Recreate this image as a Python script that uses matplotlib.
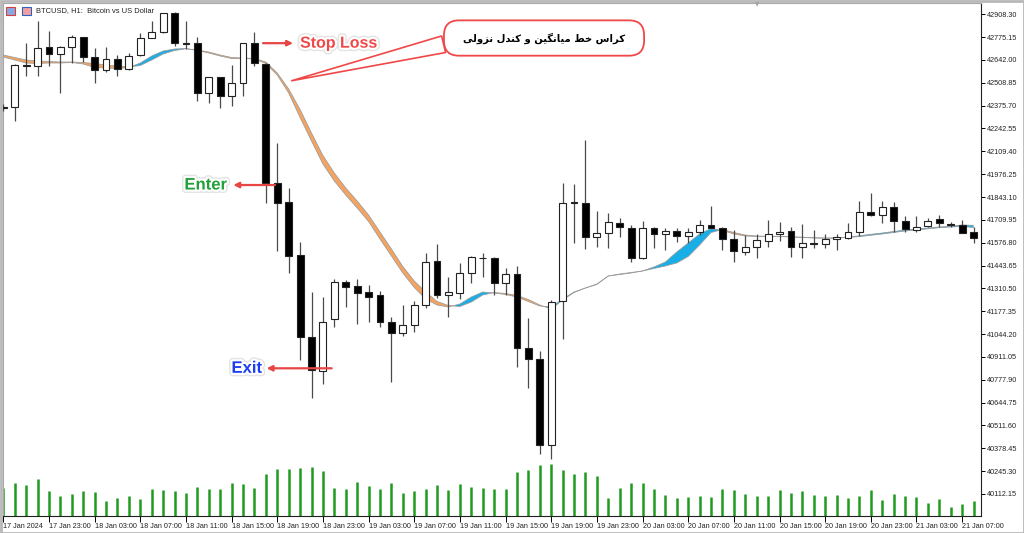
import matplotlib
matplotlib.use('Agg')
import matplotlib.pyplot as plt
from matplotlib.patches import Rectangle
import matplotlib.patheffects as pe
import numpy as np

# ---------------- data (BTCUSD H1, 17 Jan 19:00 -> 21 Jan 08:00) ----------------
opens = [42370.0, 42369.6, 42605.0, 42608.7, 42715.9, 42675.1, 42715.9, 42774.2, 42657.6, 42583.6,
         42647.7, 42589.4, 42671.0, 42771.9, 42803.4, 42914.2, 42739.3, 42742.8, 42451.3, 42541.0,
         42432.0, 42506.0, 42739.3, 42618.6, 41926.6, 41812.3, 41505.0, 41025.2, 40828.8, 41131.9,
         41349.0, 41324.3, 41291.0, 41271.9, 41116.2, 41052.1, 41097.0, 41213.5, 41471.8, 41271.9,
         41285.3, 41398.3, 41490.0, 41485.8, 41340.0, 41392.5, 40964.6, 40897.0, 40397.3, 41236.9,
         41812.0, 41809.9, 41608.2, 41631.5, 41689.8, 41664.2, 41489.3, 41660.7, 41627.5, 41646.7,
         41615.8, 41637.4, 41680.0, 41660.7, 41596.6, 41524.3, 41550.0, 41588.4, 41625.7, 41645.0,
         41550.0, 41573.3, 41569.2, 41598.3, 41606.0, 41637.4, 41754.0, 41738.3, 41783.2, 41703.3,
         41650.8, 41674.1, 41713.2, 41684.0, 41680.0, 41637.4]
highs = [42385.0, 42620.0, 42742.8, 42871.0, 42811.0, 42725.3, 42787.7, 42776.0, 42710.1, 42715.9,
         42671.0, 42684.5, 42797.6, 42869.3, 42917.7, 42921.7, 42869.3, 42774.2, 42542.8, 42542.8,
         42612.7, 42741.0, 42806.9, 42624.4, 42156.3, 41893.9, 41582.6, 41291.0, 41262.0, 41365.0,
         41359.3, 41363.4, 41330.1, 41295.1, 41141.8, 41213.5, 41238.6, 41514.9, 41567.4, 41378.5,
         41456.5, 41499.0, 41514.9, 41495.1, 41427.5, 41442.6, 41139.5, 40945.3, 41242.7, 41926.6,
         41919.0, 42175.5, 41761.6, 41748.1, 41719.0, 41680.0, 41703.3, 41670.0, 41660.7, 41662.0,
         41660.7, 41709.1, 41790.7, 41666.5, 41650.8, 41621.6, 41625.7, 41709.1, 41695.6, 41666.5,
         41684.0, 41650.8, 41625.7, 41627.5, 41689.8, 41821.6, 41864.7, 41821.6, 41812.3, 41732.4,
         41732.4, 41719.0, 41738.3, 41699.2, 41709.1, 41670.0]
lows = [42345.0, 42288.0, 42548.6, 42548.6, 42608.7, 42447.8, 42622.7, 42630.2, 42509.6, 42571.9,
        42550.4, 42583.6, 42665.2, 42770.0, 42799.3, 42723.5, 42704.3, 42402.9, 42392.9, 42360.3,
        42373.7, 42432.0, 42606.9, 41806.4, 41528.4, 41398.3, 40892.9, 40669.5, 40752.9, 41083.5,
        41203.6, 41101.0, 41116.2, 41083.5, 40766.3, 41032.8, 41057.9, 41194.3, 41254.4, 41145.3,
        41246.3, 41340.0, 41375.0, 41271.9, 41271.9, 40850.3, 40727.9, 40342.9, 40315.7, 41013.5,
        41576.7, 41538.3, 41553.4, 41544.1, 41611.7, 41466.0, 41484.0, 41544.1, 41534.2, 41582.6,
        41573.2, 41621.6, 41660.7, 41534.2, 41466.0, 41505.0, 41485.8, 41550.0, 41588.4, 41495.1,
        41485.8, 41544.1, 41544.1, 41534.2, 41598.3, 41617.5, 41735.0, 41689.8, 41640.9, 41640.9,
        41640.9, 41666.5, 41670.0, 41666.5, 41635.1, 41576.7]
closes = [42362.0, 42612.7, 42612.0, 42710.1, 42675.1, 42715.9, 42774.2, 42657.6, 42583.6, 42647.7,
          42589.4, 42665.2, 42768.4, 42803.4, 42914.2, 42739.3, 42737.0, 42451.3, 42541.0, 42432.0,
          42506.0, 42739.3, 42622.7, 41923.1, 41809.9, 41499.2, 41028.7, 40834.6, 41116.2, 41349.0,
          41320.2, 41285.3, 41261.9, 41116.2, 41048.6, 41097.0, 41213.5, 41466.0, 41271.9, 41291.0,
          41398.3, 41491.6, 41487.0, 41340.0, 41392.5, 40964.6, 40897.0, 40397.3, 41232.8, 41809.9,
          41808.0, 41608.2, 41631.5, 41695.6, 41666.5, 41485.8, 41660.7, 41627.5, 41645.0, 41615.8,
          41640.9, 41680.0, 41664.2, 41596.6, 41530.1, 41550.0, 41592.5, 41625.7, 41637.4, 41550.0,
          41573.3, 41567.4, 41598.3, 41608.2, 41637.4, 41754.0, 41738.3, 41783.2, 41703.3, 41655.0,
          41670.0, 41705.0, 41689.8, 41682.0, 41635.1, 41606.0]
volumes = [2800, 3330, 3070, 3730, 2500, 2000, 2170, 2500, 2400, 1500,
           1830, 2000, 1730, 2670, 2570, 2500, 2330, 2930, 2730, 2670,
           3330, 3230, 2770, 4170, 4670, 4730, 4800, 4930, 4500, 2830,
           2730, 3430, 3000, 2730, 3330, 2330, 2500, 2670, 3070, 2570,
           3170, 2930, 2830, 2670, 2730, 4430, 4630, 5070, 5200, 4630,
           4230, 4430, 4000, 1830, 2830, 3270, 3270, 2730, 2070, 1770,
           1930, 2000, 1930, 2670, 2570, 2230, 2000, 2000, 2570, 2300,
           2500, 2070, 2000, 2070, 1830, 2000, 2570, 1570, 2170, 2000,
           1930, 1330, 1670, 930, 1170, 1470]
ma_fast = [42659.4, 42641.9, 42624.4, 42621.5, 42624.4, 42624.4, 42627.3, 42618.6, 42598.2, 42595.3,
           42592.3, 42598.2, 42624.4, 42665.2, 42694.4, 42706.0, 42708.9, 42697.3, 42682.7, 42665.2,
           42650.6, 42650.6, 42647.7, 42621.5, 42554.4, 42449.5, 42306.7, 42169.7, 42035.6, 41936.5,
           41854.8, 41779.1, 41700.4, 41598.3, 41499.2, 41400.1, 41315.6, 41248.5, 41213.5, 41201.9,
           41219.4, 41260.2, 41289.3, 41283.5, 41274.8, 41260.2, 41234.0, 41207.7, 41201.9, 41248.5,
           41289.3, 41312.7, 41333.1, 41382.6, 41391.4, 41400.1, 41411.8, 41435.1, 41464.2, 41522.5,
           41575.0, 41627.5, 41659.5, 41647.9, 41627.5, 41615.8, 41612.9, 41612.9, 41612.9, 41610.0,
           41607.1, 41604.2, 41603.0, 41604.2, 41610.0, 41617.0, 41625.7, 41633.3, 41642.1, 41650.8,
           41656.6, 41662.5, 41668.3, 41672.4, 41679.9, 41678.2]
ma_slow = [42671.0, 42656.5, 42641.9, 42636.1, 42633.2, 42630.2, 42630.2, 42627.3, 42621.5, 42612.7,
           42606.9, 42601.1, 42609.8, 42641.9, 42676.9, 42697.3, 42707.2, 42700.2, 42688.5, 42671.0,
           42656.5, 42653.6, 42650.6, 42630.2, 42566.1, 42472.8, 42353.3, 42216.3, 42085.1, 41983.1,
           41895.7, 41819.9, 41738.2, 41639.1, 41540.0, 41438.0, 41353.5, 41289.3, 41234.0, 41210.6,
           41204.8, 41231.0, 41271.8, 41286.4, 41280.6, 41268.9, 41245.6, 41213.5, 41190.2, 41242.7,
           41286.4, 41312.7, 41336.0, 41382.6, 41394.3, 41403.0, 41411.8, 41426.3, 41440.9, 41458.4,
           41496.3, 41563.3, 41636.2, 41653.7, 41636.2, 41621.6, 41615.8, 41614.1, 41613.5, 41611.2,
           41608.8, 41605.9, 41604.2, 41604.2, 41607.1, 41612.3, 41619.9, 41627.5, 41636.2, 41645.0,
           41650.8, 41657.8, 41664.2, 41668.3, 41671.2, 41665.4]

price_ticks = [42908.30, 42775.15, 42642.00, 42508.85, 42375.70, 42242.55, 42109.40, 41976.25,
               41843.10, 41709.95, 41576.80, 41443.65, 41310.50, 41177.35, 41044.20, 40911.05,
               40777.90, 40644.75, 40511.60, 40378.45, 40245.30, 40112.15]
time_tick_bars = list(range(0, 86, 4))
time_labels = ['17 Jan 2024', '17 Jan 23:00', '18 Jan 03:00', '18 Jan 07:00', '18 Jan 11:00',
               '18 Jan 15:00', '18 Jan 19:00', '18 Jan 23:00', '19 Jan 03:00', '19 Jan 07:00',
               '19 Jan 11:00', '19 Jan 15:00', '19 Jan 19:00', '19 Jan 23:00', '20 Jan 03:00',
               '20 Jan 07:00', '20 Jan 11:00', '20 Jan 15:00', '20 Jan 19:00', '20 Jan 23:00',
               '21 Jan 03:00', '21 Jan 07:00']

# callout text (Persian, written in shaped presentation forms, visual order)
callout_text = ('\uFBFD\uFEDF\uFEED\uFEB0\uFEE7 \uFEDD\uFEAA\uFEE8\uFB90 \uFEED '
                '\uFEE6\uFBFF\uFB95\uFEE7\uFE8E\uFBFF\uFEE3 \uFEC2\uFEA7 \uFEB1\uFE8D\uFEAE\uFB90')

# ---------------- figure ----------------
W, H = 1024, 533
fig = plt.figure(figsize=(W / 100, H / 100), dpi=100)
fig.patch.set_facecolor('white')
ax = fig.add_axes([3 / W, (H - 516) / H, (981 - 3) / W, (516 - 3) / H])
ax.set_facecolor('white')

x = np.arange(len(opens))
o = np.array(opens); c = np.array(closes); hi = np.array(highs); lo = np.array(lows)

# volumes (overlay at bottom)
axv = fig.add_axes(ax.get_position(), sharex=ax, frameon=False)
axv.vlines(x, 0, volumes, color='#1e9a1e', lw=1.8, zorder=1)
axv.set_ylim(0, 51300)
axv.axis('off')
axv.set_zorder(0)
ax.set_zorder(1)
ax.patch.set_alpha(0)

# moving-average band
mf = np.array(ma_fast); ms = np.array(ma_slow)
ax.fill_between(x, mf, ms, where=mf <= ms, interpolate=True, color='#F4A460', lw=0, zorder=2)
ax.fill_between(x, mf, ms, where=mf >= ms, interpolate=True, color='#1AAEE6', lw=0, zorder=2)
ax.plot(x, mf, color='#9a9a9a', lw=0.55, zorder=3)
ax.plot(x, ms, color='#9a9a9a', lw=0.55, zorder=3)

# candles
bw = 0.6
ax.vlines(x, lo, hi, color='#4a4a4a', lw=0.9, zorder=4)
for i in range(len(x)):
    bull = c[i] >= o[i]
    bottom = min(o[i], c[i])
    height = abs(c[i] - o[i])
    ax.add_patch(Rectangle((x[i] - bw / 2, bottom), bw, height,
                           facecolor='white' if bull else 'black',
                           edgecolor='#222222', lw=0.8, zorder=5))

ax.set_xlim((3 - 3.3) / 11.415, (981 - 3.3) / 11.415)
ax.set_ylim(39983.4, 42974.2)

# axes styling
ax.yaxis.tick_right()
ax.set_yticks(price_ticks)
ax.set_yticklabels(['%.2f' % v for v in price_ticks])
ax.set_xticks(time_tick_bars)
ax.set_xticklabels(time_labels)
ax.tick_params(axis='y', direction='out', length=3, width=0.7, pad=1, labelsize=5.2,
               labelcolor='#222222', labelfontfamily='Liberation Sans')
ax.tick_params(axis='x', direction='out', length=4, width=0.7, pad=1, labelsize=5.2,
               labelcolor='#222222', labelfontfamily='Liberation Sans')
for lab in ax.get_xticklabels():
    lab.set_ha('left')
for side in ['left', 'top']:
    ax.spines[side].set_color('#a8a8a8')
for side in ['right', 'bottom']:
    ax.spines[side].set_color('#202020')
    ax.spines[side].set_linewidth(0.8)

# header
fig.text(36 / W, 1 - 11 / H, 'BTCUSD, H1:  Bitcoin vs US Dollar', fontsize=5.4,
         family='Liberation Sans', color='#222222', va='center', ha='left')
fig.patches.append(Rectangle((6 / W, 1 - 15 / H), 9 / W, 8 / H, transform=fig.transFigure,
                             facecolor='#8aa8e0', edgecolor='#d04040', lw=0.8))
fig.patches.append(Rectangle((22 / W, 1 - 15 / H), 9 / W, 8 / H, transform=fig.transFigure,
                             facecolor='#f0a0a0', edgecolor='#3060c0', lw=0.8))
fig.text(757 / W, 1 - 5 / H, '\u25BC', fontsize=4, color='#a0a0a0', ha='center', va='center')

# outer frame
fig.patches.append(Rectangle((0.5 / W, 0.5 / H), 1 - 1 / W, 1 - 1 / H, transform=fig.transFigure,
                             facecolor='none', edgecolor='#b8b8b8', lw=2))

# annotations
halo = [pe.withStroke(linewidth=5, foreground='#e4e4e4'), pe.withStroke(linewidth=3, foreground='white')]
arrow_red = '#E84545'

ax.annotate('', xy=(25.38, 42740), xytext=(22.75, 42740),
            arrowprops=dict(arrowstyle='-|>', color=arrow_red, lw=1.6, mutation_scale=8,
                            shrinkA=0, shrinkB=0), zorder=8)
ax.text(26.0, 42740, 'Stop Loss', color='#F04848', fontsize=11.5, fontweight='bold',
        family='Liberation Sans', ha='left', va='center', path_effects=halo, zorder=8)

ax.annotate('', xy=(20.15, 41913), xytext=(23.8, 41913),
            arrowprops=dict(arrowstyle='-|>', color=arrow_red, lw=1.6, mutation_scale=8,
                            shrinkA=0, shrinkB=0), zorder=8)
ax.text(19.6, 41913, 'Enter', color='#20A038', fontsize=12, fontweight='bold',
        family='Liberation Sans', ha='right', va='center', path_effects=halo, zorder=8)

ax.annotate('', xy=(23.07, 40844.5), xytext=(28.77, 40844.5),
            arrowprops=dict(arrowstyle='-|>', color=arrow_red, lw=1.6, mutation_scale=8,
                            shrinkA=0, shrinkB=0), zorder=8)
ax.text(22.66, 40844.5, 'Exit', color='#1A3CF5', fontsize=12, fontweight='bold',
        family='Liberation Sans', ha='right', va='center', path_effects=halo, zorder=8)

ax.annotate('  ' + callout_text + '  ', xy=(25.26, 42521), xytext=(47.37, 42770),
            textcoords='data', ha='center', va='center', fontsize=7.2, fontweight='bold',
            family='DejaVu Sans', color='black', zorder=9,
            bbox=dict(boxstyle='round,pad=1.2,rounding_size=1.5', fc='white', ec='#F04848', lw=1.3),
            arrowprops=dict(arrowstyle='wedge,tail_width=1.7,shrink_factor=0.5', fc='white',
                            ec='#F04848', lw=1.2, relpos=(0.05, 0.4), shrinkA=0, shrinkB=0))

fig.savefig('out.png', dpi=100, facecolor=fig.get_facecolor())
